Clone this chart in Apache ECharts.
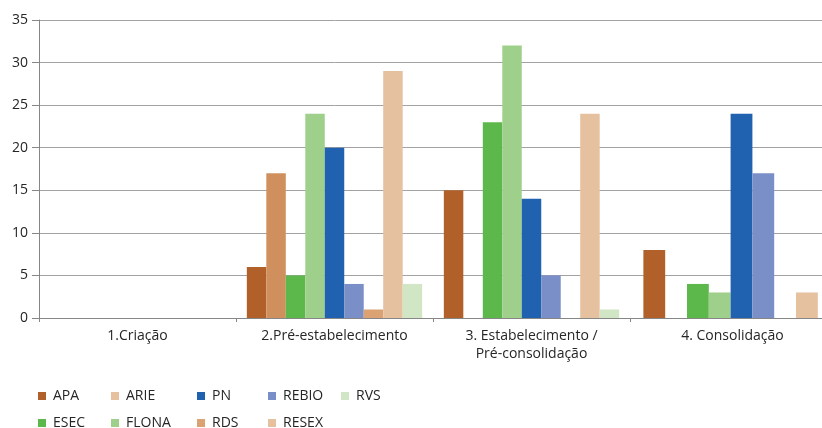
<!DOCTYPE html>
<html>
<head>
<meta charset="utf-8">
<script src="https://cdn.jsdelivr.net/npm/echarts@6/dist/echarts.min.js"></script>
<style>
  html, body { margin: 0; padding: 0; background: #fff; }
  #chart { width: 822px; height: 428px; }
</style>
</head>
<body>
<div id="chart"></div>
<script>
// Fases de implementação das unidades de conservação, por categoria
const categories = ['1.Criação', '2.Pré-estabelecimento', '3. Estabelecimento /\nPré-consolidação', '4. Consolidação'];

const APA   = [0, 6, 15, 8];
const ARIE  = [0, 17, 0, 0];
const ESEC  = [0, 5, 23, 4];
const FLONA = [0, 24, 32, 3];
const PN    = [0, 20, 14, 24];
const REBIO = [0, 4, 5, 17];
const RDS   = [0, 1, 0, 0];
const RESEX = [0, 29, 24, 3];
const RVS   = [0, 4, 1, 0];

const yTicks = [0, 5, 10, 15, 20, 25, 30, 35];

const seriesDefs = [
  { name: 'APA',   data: APA,   color: '#B1602A' },
  { name: 'ARIE',  data: ARIE,  color: '#D0905E', legendColor: '#E6C1A0' },
  { name: 'ESEC',  data: ESEC,  color: '#5CB84A' },
  { name: 'FLONA', data: FLONA, color: '#9ED08B' },
  { name: 'PN',    data: PN,    color: '#2062AF' },
  { name: 'REBIO', data: REBIO, color: '#7A8FC7' },
  { name: 'RDS',   data: RDS,   color: '#DBA273' },
  { name: 'RESEX', data: RESEX, color: '#E6C1A0' },
  { name: 'RVS',   data: RVS,   color: '#D1E6C5' }
];

// legend grid: column lefts and row tops
const legendCols = [38, 111, 197, 268, 341];
const legendRows = [389, 416];
const legendLayout = [
  ['APA', 0, 0], ['ARIE', 1, 0], ['PN', 2, 0], ['REBIO', 3, 0], ['RVS', 4, 0],
  ['ESEC', 0, 1], ['FLONA', 1, 1], ['RDS', 2, 1], ['RESEX', 3, 1]
];

const font = '"Open Sans", "Noto Sans", sans-serif';
const axisGray = '#868686';
const textColor = '#262626';
const byName = {};
seriesDefs.forEach(s => byName[s.name] = s);

// the first three phases share one panel, the last phase sits in a wider panel on the right
const split = 3;
const yMin = yTicks[0];
const yMax = yTicks[yTicks.length - 1];

function xAxisFor(gridIndex, data, labelPadding) {
  return {
    type: 'category',
    gridIndex: gridIndex,
    data: data,
    axisLine: { show: true, lineStyle: { color: axisGray, width: 1 } },
    axisTick: { show: true, length: 4, lineStyle: { color: axisGray } },
    axisLabel: {
      fontFamily: font, fontSize: 14, color: textColor,
      margin: 9, lineHeight: 18, interval: 0, padding: labelPadding
    },
    splitLine: { show: false }
  };
}

function yAxisFor(gridIndex, visible) {
  return {
    type: 'value',
    gridIndex: gridIndex,
    min: yMin,
    max: yMax,
    interval: 5,
    axisLine: { show: visible, lineStyle: { color: axisGray, width: 1 } },
    axisTick: { show: visible, length: 7, inside: false, lineStyle: { color: axisGray } },
    axisLabel: { show: visible, fontFamily: font, fontSize: 14, color: textColor, margin: 11 },
    splitLine: { show: true, lineStyle: { color: '#A2A2A2', width: 1 } }
  };
}

const series = [];
seriesDefs.forEach(s => {
  series.push({
    name: s.name, type: 'bar', xAxisIndex: 0, yAxisIndex: 0,
    data: s.data.slice(0, split),
    barGap: '0%', barCategoryGap: '11%',
    itemStyle: { color: s.color }
  });
  series.push({
    name: s.name, type: 'bar', xAxisIndex: 1, yAxisIndex: 1,
    data: s.data.slice(split),
    barGap: '0%', barCategoryGap: '12%',
    itemStyle: { color: s.color }
  });
});

const chart = echarts.init(document.getElementById('chart'), null, { renderer: 'canvas' });

chart.setOption({
  animation: false,
  backgroundColor: '#ffffff',
  textStyle: { fontFamily: font },
  grid: [
    { left: 39, top: 20, width: 591, bottom: 110, containLabel: false, outerBoundsMode: 'none' },
    { left: 630, top: 20, width: 223, bottom: 110, containLabel: false, outerBoundsMode: 'none' }
  ],
  legend: legendLayout.map(([name, c, r]) => ({
    left: legendCols[c],
    top: legendRows[r],
    orient: 'horizontal',
    padding: 0,
    itemWidth: 8,
    itemHeight: 8,
    icon: 'rect',
    selectedMode: false,
    textStyle: { fontFamily: font, fontSize: 14, color: textColor, padding: [0, 0, 0, 2] },
    data: [{ name: name, icon: 'rect', itemStyle: { color: byName[name].legendColor || byName[name].color } }]
  })),
  xAxis: [
    xAxisFor(0, categories.slice(0, split), 0),
    xAxisFor(1, categories.slice(split), [0, 18, 0, 0])
  ],
  yAxis: [yAxisFor(0, true), yAxisFor(1, false)],
  series: series
});
</script>
</body>
</html>
